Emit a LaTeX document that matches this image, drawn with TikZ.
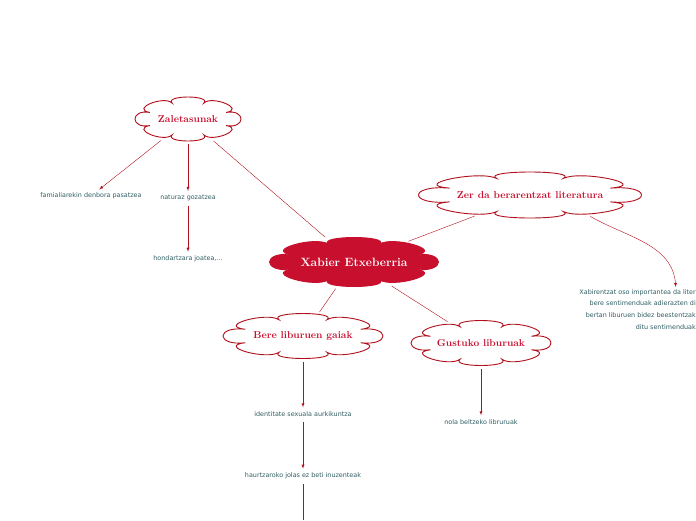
\documentclass[tikz,border=0pt]{standalone}
\usepackage{fontspec}
\newfontfamily\leaffont{DejaVu Sans}
\usetikzlibrary{shapes.geometric,arrows}
\definecolor{mred}{HTML}{C8102E}
\definecolor{mline}{HTML}{B0101C}
\definecolor{mteal}{HTML}{2F5D62}
\tikzstyle{topic} = [draw=mline, fill=white, line width=0.9pt]
\tikzstyle{topic text} = [ellipse, inner sep=0pt, text=mred, font=\bfseries]
\tikzstyle{central} = [draw=mred, fill=mred, line width=0.9pt]
\tikzstyle{central text} = [topic text, text=white, font=\bfseries\large]
\tikzstyle{leaf} = [text=mteal, font=\leaffont\fontsize{6.4}{11.8}\selectfont, inner sep=2pt]
\tikzstyle{link} = [draw=mline, shorten <=3pt, shorten >=2pt]
\tikzstyle{arrow} = [link, -latex]
% name, position, width, height, puffs, style, text
\newcommand{\puffcloud}[7]{%
  \pgfmathsetmacro\puffc{(8/cos(180/#5)-1.56)/6}
  \path[#6, shift={#2}, xscale=#3/2, yscale=#4/2] ({180/#5}:0.78)
    \foreach \p in {1,...,#5} { .. controls ({(\p-0.5)*360/#5}:\puffc) and ({(\p+0.5)*360/#5}:\puffc) .. ({(\p+0.5)*360/#5}:0.78) } -- cycle;
  \node[#6 text, minimum width=#3pt, minimum height=#4pt] at #2 (#1) {#7};}
\begin{document}
\begin{tikzpicture}[x=1pt, y=-1pt]
    \useasboundingbox (0,0) rectangle (696,520);
    % clouds
    \puffcloud{zal}{(188,119)}{106}{44}{8}{topic}{Zaletasunak}
    \puffcloud{zer}{(530,195)}{223}{46}{8}{topic}{Zer da berarentzat literatura}
    \puffcloud{xab}{(354,262)}{169}{49}{8}{central}{Xabier Etxeberria}
    \puffcloud{bere}{(303,336)}{160}{45}{8}{topic}{Bere liburuen gaiak}
    \puffcloud{gus}{(481,343)}{140}{45}{8}{topic}{Gustuko liburuak}

    % leaves
    \node[leaf] at (91,196) (fam) {famialiarekin denbora pasatzea};
    \node[leaf] at (188,198) (nat) {naturaz gozatzea};
    \node[leaf] at (188,259) (hon) {hondartzara joatea,...};
    \node[leaf, align=right, anchor=north east, inner sep=0pt] at (696,289) (lit) {Xabirentzat oso importantea da liter\\bere sentimenduak adierazten di\\bertan liburuen bidez beestentzak\\ditu sentimenduak};
    \node[leaf] at (303,414) (ide) {identitate sexuala aurkikuntza};
    \node[leaf] at (303,476) (hau) {haurtzaroko jolas ez beti inuzenteak};
    \node[leaf] at (481,422) (nol) {nola beltzeko libruruak};
    \coordinate (down) at (303,522);

    % connectors
    \path[link] (zal) -- (xab);
    \path[link] (xab) -- (zer);
    \path[link] (xab) -- (bere);
    \path[link] (xab) -- (gus);
    \path[arrow] (zal) -- (fam);
    \path[arrow] (zal) -- (nat);
    \path[arrow] (nat) -- (hon);
    \path[arrow] (zer.-19) to[out=-30, in=95] ([xshift=-20pt]lit.north east);
    \path[arrow] (bere) -- (ide);
    \path[arrow] (ide) -- (hau);
    \path[link] (hau) -- (down);
    \path[arrow] (gus) -- (nol);
\end{tikzpicture}
\end{document}
